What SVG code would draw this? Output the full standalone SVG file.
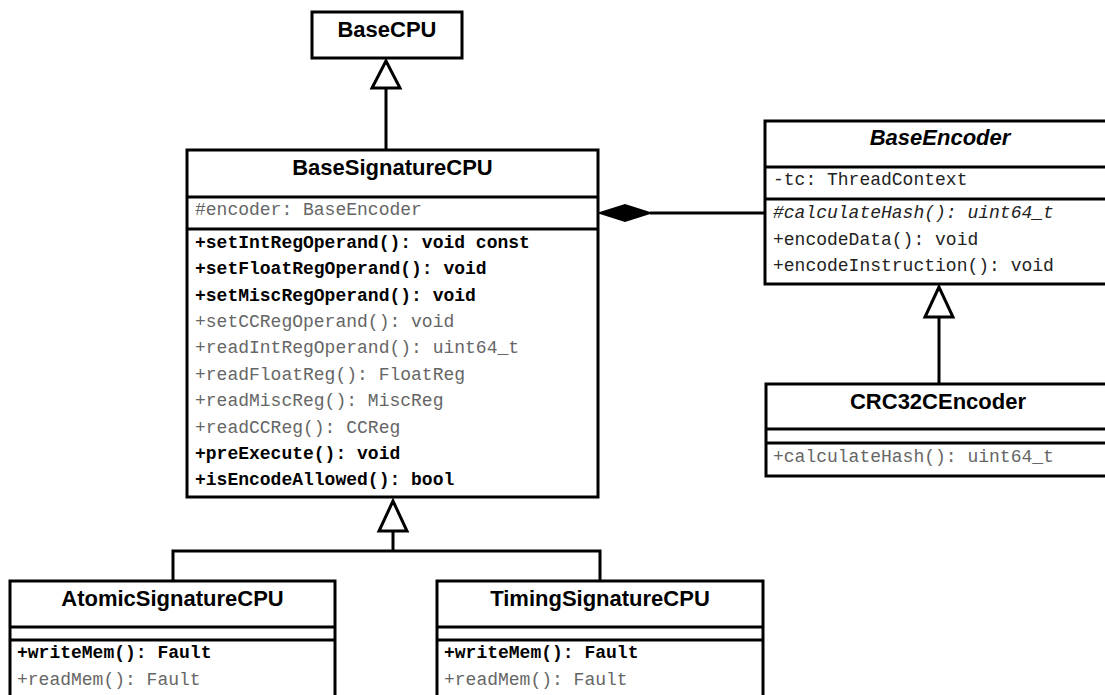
<svg xmlns="http://www.w3.org/2000/svg" width="1105" height="695" viewBox="0 0 1105 695">
<style>
.box{fill:#fff;stroke:#000;stroke-width:3}
.sep{stroke:#000;stroke-width:3}
.name{font-family:"Liberation Sans",Arial,sans-serif;font-weight:bold;font-size:22px;fill:#000;text-anchor:middle}
.ital{font-style:italic}
.m{font-family:"Liberation Mono","Courier New",monospace;font-size:18px}
.b{font-weight:bold;fill:#000}
.g{fill:#666}
.d{fill:#222}
.con{fill:none;stroke:#000;stroke-width:3}
.tri{fill:#fff;stroke:#000;stroke-width:3;stroke-linejoin:miter}
.dia{fill:#000;stroke:#000;stroke-width:2}
</style>
<rect width="1105" height="695" fill="#fff"/>
<g id="connectors">
  <line class="con" x1="386" y1="150" x2="386" y2="88"/>
  <polygon class="tri" points="386,61 372,88 400,88"/>
  <line class="con" x1="650" y1="213" x2="765" y2="213"/>
  <polygon class="dia" points="600,213 625,205 650,213 625,221"/>
  <line class="con" x1="939" y1="384" x2="939" y2="317"/>
  <polygon class="tri" points="939,287 925,317 953,317"/>
  <polyline class="con" points="173,581 173,551 600,551 600,581"/>
  <line class="con" x1="393" y1="551" x2="393" y2="531"/>
  <polygon class="tri" points="393,501 379,531 407,531"/>
</g>
<g id="BaseCPU">
  <rect class="box" x="312" y="12" width="150" height="46"/>
  <text class="name" x="387" y="37">BaseCPU</text>
</g>
<g id="BaseSignatureCPU">
  <rect class="box" x="187" y="150" width="411" height="347"/>
  <line class="sep" x1="187" y1="197" x2="598" y2="197"/>
  <line class="sep" x1="187" y1="229" x2="598" y2="229"/>
  <text class="name" x="392.5" y="175">BaseSignatureCPU</text>
  <text class="m g" x="195" y="215">#encoder: BaseEncoder</text>
  <text class="m b" x="195" y="247.5">+setIntRegOperand(): void const</text>
  <text class="m b" x="195" y="274">+setFloatRegOperand(): void</text>
  <text class="m b" x="195" y="300.5">+setMiscRegOperand(): void</text>
  <text class="m g" x="195" y="327">+setCCRegOperand(): void</text>
  <text class="m g" x="195" y="353">+readIntRegOperand(): uint64_t</text>
  <text class="m g" x="195" y="379.5">+readFloatReg(): FloatReg</text>
  <text class="m g" x="195" y="406">+readMiscReg(): MiscReg</text>
  <text class="m g" x="195" y="432.5">+readCCReg(): CCReg</text>
  <text class="m b" x="195" y="459">+preExecute(): void</text>
  <text class="m b" x="195" y="485">+isEncodeAllowed(): bool</text>
</g>
<g id="BaseEncoder">
  <rect class="box" x="765" y="121" width="350" height="163"/>
  <line class="sep" x1="765" y1="167" x2="1115" y2="167"/>
  <line class="sep" x1="765" y1="199" x2="1115" y2="199"/>
  <text class="name ital" x="940" y="145">BaseEncoder</text>
  <text class="m d" x="773" y="185">-tc: ThreadContext</text>
  <text class="m d ital" x="773" y="218">#calculateHash(): uint64_t</text>
  <text class="m d" x="773" y="244.5">+encodeData(): void</text>
  <text class="m d" x="773" y="271">+encodeInstruction(): void</text>
</g>
<g id="CRC32CEncoder">
  <rect class="box" x="766" y="384" width="344" height="92"/>
  <line class="sep" x1="766" y1="429" x2="1110" y2="429"/>
  <line class="sep" x1="766" y1="443" x2="1110" y2="443"/>
  <text class="name" x="938" y="408.5">CRC32CEncoder</text>
  <text class="m g" x="773" y="461.5">+calculateHash(): uint64_t</text>
</g>
<g id="AtomicSignatureCPU">
  <rect class="box" x="10" y="581" width="325" height="130"/>
  <line class="sep" x1="10" y1="627" x2="335" y2="627"/>
  <line class="sep" x1="10" y1="640" x2="335" y2="640"/>
  <text class="name" x="172.5" y="605.5">AtomicSignatureCPU</text>
  <text class="m b" x="17" y="658">+writeMem(): Fault</text>
  <text class="m g" x="17" y="684.5">+readMem(): Fault</text>
</g>
<g id="TimingSignatureCPU">
  <rect class="box" x="437" y="581" width="326" height="130"/>
  <line class="sep" x1="437" y1="627" x2="763" y2="627"/>
  <line class="sep" x1="437" y1="640" x2="763" y2="640"/>
  <text class="name" x="600" y="605.5">TimingSignatureCPU</text>
  <text class="m b" x="444" y="658">+writeMem(): Fault</text>
  <text class="m g" x="444" y="684.5">+readMem(): Fault</text>
</g>
</svg>
